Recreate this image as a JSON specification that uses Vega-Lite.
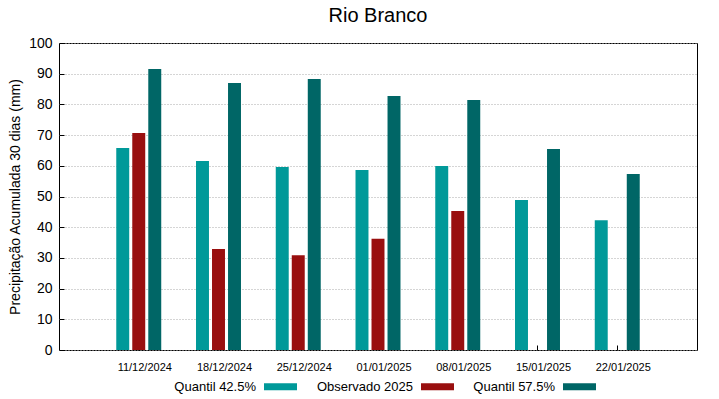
{
  "$schema": "https://vega.github.io/schema/vega-lite/v6.json",
  "width": 638,
  "height": 307,
  "autosize": {"type": "none"},
  "padding": {"left": 59, "top": 43, "right": 22, "bottom": 49},
  "background": "white",
  "title": {"text": "Rio Branco", "fontSize": 20, "font": "Liberation Sans", "fontWeight": "normal", "color": "#000", "offset": 10},
  "config": {
    "font": "Liberation Sans",
    "view": {"stroke": "#000", "strokeWidth": 1}
  },
  "data": {
    "values": [
      {"date": "11/12/2024", "serie": "Quantil 42.5%", "v": 65.8},
      {"date": "11/12/2024", "serie": "Observado 2025", "v": 70.7},
      {"date": "11/12/2024", "serie": "Quantil 57.5%", "v": 91.5},
      {"date": "18/12/2024", "serie": "Quantil 42.5%", "v": 61.6},
      {"date": "18/12/2024", "serie": "Observado 2025", "v": 32.9},
      {"date": "18/12/2024", "serie": "Quantil 57.5%", "v": 87.0},
      {"date": "25/12/2024", "serie": "Quantil 42.5%", "v": 59.6},
      {"date": "25/12/2024", "serie": "Observado 2025", "v": 30.9},
      {"date": "25/12/2024", "serie": "Quantil 57.5%", "v": 88.3},
      {"date": "01/01/2025", "serie": "Quantil 42.5%", "v": 58.6},
      {"date": "01/01/2025", "serie": "Observado 2025", "v": 36.2},
      {"date": "01/01/2025", "serie": "Quantil 57.5%", "v": 82.7},
      {"date": "08/01/2025", "serie": "Quantil 42.5%", "v": 59.9},
      {"date": "08/01/2025", "serie": "Observado 2025", "v": 45.3},
      {"date": "08/01/2025", "serie": "Quantil 57.5%", "v": 81.4},
      {"date": "15/01/2025", "serie": "Quantil 42.5%", "v": 48.9},
      {"date": "15/01/2025", "serie": "Quantil 57.5%", "v": 65.5},
      {"date": "22/01/2025", "serie": "Quantil 42.5%", "v": 42.3},
      {"date": "22/01/2025", "serie": "Quantil 57.5%", "v": 57.3}
    ]
  },
  "mark": {"type": "bar", "strokeWidth": 0},
  "encoding": {
    "x": {
      "field": "date", "type": "nominal", "sort": null,
      "scale": {"paddingInner": 0.436, "paddingOuter": 0.718},
      "axis": {"title": null, "labelAngle": 0, "labelFontSize": 11, "labelColor": "#000", "labelPadding": 16, "labelOffset": 6,
               "ticks": true, "tickSize": -5, "tickColor": "#000", "zindex": 0, "domain": false, "grid": false}
    },
    "xOffset": {
      "field": "serie", "type": "nominal",
      "sort": ["Quantil 42.5%", "Observado 2025", "Quantil 57.5%"],
      "scale": {"domain": ["Quantil 42.5%", "Observado 2025", "Quantil 57.5%"], "paddingInner": 0.19, "paddingOuter": 0}
    },
    "y": {
      "field": "v", "type": "quantitative",
      "scale": {"domain": [0, 100], "nice": false},
      "axis": {"title": "Precipitação Acumulada 30 dias (mm)", "titleFontSize": 14, "titleFontWeight": "normal", "titleColor": "#000", "titlePadding": 6,
               "values": [0,10,20,30,40,50,60,70,80,90,100], "labelFontSize": 14, "labelColor": "#000", "labelPadding": 12,
               "ticks": true, "tickSize": -5, "tickColor": "#000", "domain": false, "grid": true, "gridColor": "#aaa", "gridDash": [1, 2], "gridWidth": 1}
    },
    "color": {
      "field": "serie", "type": "nominal",
      "scale": {"domain": ["Quantil 42.5%", "Observado 2025", "Quantil 57.5%"], "range": ["#009999", "#990f0f", "#006666"]},
      "legend": {
        "title": null, "orient": "none", "direction": "horizontal", "legendX": 205, "legendY": 327,
        "symbolType": "M-1,-0.212H1V0.212H-1Z", "symbolSize": 1089, "symbolStrokeWidth": 0, "symbolOpacity": 1,
        "labelAlign": "right", "labelOffset": -41, "labelFontSize": 13, "labelColor": "#000", "columnPadding": 19
      }
    }
  }
}
